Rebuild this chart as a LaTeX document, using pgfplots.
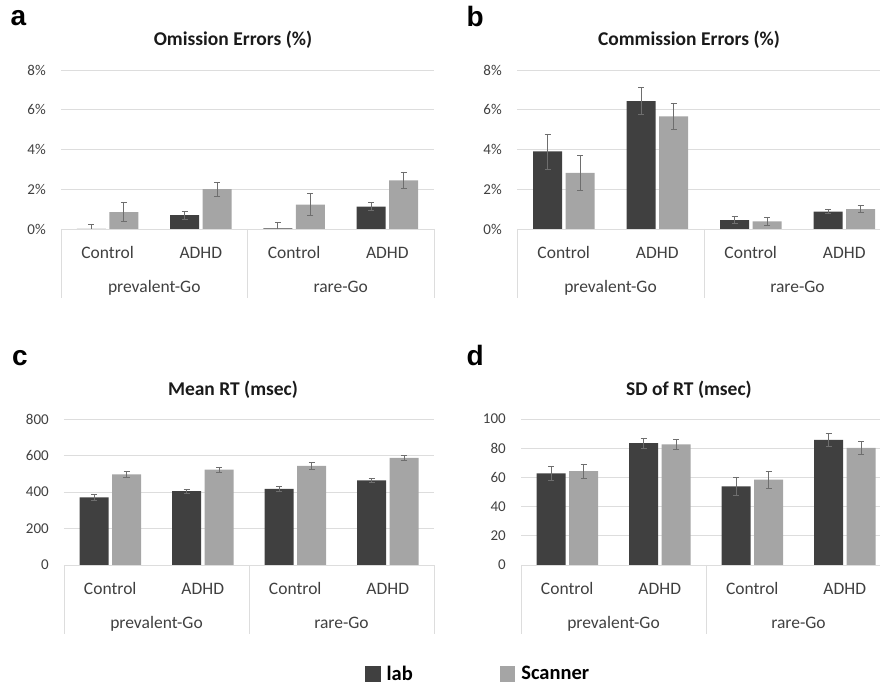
\documentclass[border=0pt]{standalone}
\usepackage{fontspec}
\setmainfont{Carlito}
\newfontfamily\arialfont{Liberation Sans}
\usepackage{pgfplots}
\pgfplotsset{compat=1.18}
\definecolor{labc}{HTML}{404040}
\definecolor{scanc}{HTML}{A5A5A5}
\definecolor{gridc}{HTML}{DDDDDD}
\definecolor{errc}{HTML}{6E6E6E}
\definecolor{tickc}{HTML}{404040}
\definecolor{titlec}{HTML}{1A1A1A}

\newcommand\catfont{\fontsize{17.5bp}{20bp}\selectfont}
\newcommand\decor{%
  \node[anchor=base, font=\catfont, tickc, yshift=-29.5bp] at (axis cs:1,0) {Control};
  \node[anchor=base, font=\catfont, tickc, yshift=-29.5bp] at (axis cs:2,0) {ADHD};
  \node[anchor=base, font=\catfont, tickc, yshift=-29.5bp] at (axis cs:3,0) {Control};
  \node[anchor=base, font=\catfont, tickc, yshift=-29.5bp] at (axis cs:4,0) {ADHD};
  \node[anchor=base, font=\catfont, tickc, yshift=-63.5bp] at (axis cs:1.5,0) {prevalent-Go};
  \node[anchor=base, font=\catfont, tickc, yshift=-63.5bp] at (axis cs:3.5,0) {rare-Go};
  \draw[gridc, line width=0.9bp] (axis cs:0.5,0) -- ++(0bp,-69bp);
  \draw[gridc, line width=0.9bp] (axis cs:2.5,0) -- ++(0bp,-69bp);
  \draw[gridc, line width=0.9bp] (axis cs:4.5,0) -- ++(0bp,-69bp);
}

\pgfplotsset{
  panel/.style={
    scale only axis, anchor=south west,
    ybar=3.5bp, bar width=29bp,
    xmin=0.5, xmax=4.5, ymin=0,
    xtick=\empty,
    axis line style={draw=none},
    major tick length=0pt,
    ymajorgrids, grid style={gridc, line width=0.9bp},
    yticklabel style={font=\fontsize{15bp}{18bp}\selectfont, color=tickc, anchor=east, inner sep=0pt, xshift=-15bp},
    /pgf/number format/assume math mode=true,
    clip mode=individual,
    enlargelimits=false,
  },
  errs/.style={error bars/.cd, y dir=both, y explicit,
    error bar style={errc, line width=0.8bp},
    error mark options={errc, rotate=90, mark size=3bp, line width=0.8bp}},
  labbar/.style={fill=labc, draw=none, errs},
  scanbar/.style={fill=scanc, draw=none, errs},
}

\begin{document}
\begin{tikzpicture}
\path[use as bounding box] (0,0) rectangle (880bp,684bp);
\clip (0,0) rectangle (880bp,684bp);

% panel a
\begin{axis}[panel, at={(61bp,455bp)}, width=373bp, height=159bp,
  ymax=8, ytick={0,2,4,6,8}, yticklabel={\pgfmathprintnumber{\tick}\%}]
\addplot[labbar] coordinates {(1,0.0) +- (0,0.22) (2,0.7) +- (0,0.2) (3,0.03) +- (0,0.3) (4,1.12) +- (0,0.2)};
\addplot[scanbar] coordinates {(1,0.85) +- (0,0.47) (2,2.0) +- (0,0.36) (3,1.23) +- (0,0.56) (4,2.45) +- (0,0.42)};
\decor
\end{axis}

% panel b
\begin{axis}[panel, at={(517bp,455bp)}, width=374bp, height=159bp,
  ymax=8, ytick={0,2,4,6,8}, yticklabel={\pgfmathprintnumber{\tick}\%}]
\addplot[labbar] coordinates {(1,3.9) +- (0,0.88) (2,6.43) +- (0,0.67) (3,0.45) +- (0,0.17) (4,0.87) +- (0,0.1)};
\addplot[scanbar] coordinates {(1,2.82) +- (0,0.86) (2,5.67) +- (0,0.65) (3,0.38) +- (0,0.2) (4,1.0) +- (0,0.17)};
\decor
\end{axis}

% panel c
\begin{axis}[panel, at={(64bp,119bp)}, width=370bp, height=146bp,
  ymax=800, ytick={0,200,400,600,800},
  legend columns=2,
  legend image code/.code={\fill[#1] (0bp,-7.8bp) rectangle (15.6bp,7.8bp);},
  legend style={at={(0.8135,-0.7466)}, anchor=west, draw=none, fill=none,
    inner sep=0pt, outer sep=0pt, text=black,
    font=\bfseries\fontsize{20.5bp}{24bp}\selectfont,
    /tikz/every odd column/.append style={column sep=4bp},
    /tikz/every even column/.append style={column sep=85bp}}]
\addplot[labbar] coordinates {(1,371) +- (0,16) (2,405) +- (0,10) (3,417) +- (0,14) (4,464) +- (0,11)};
\addlegendentry{lab}
\addplot[scanbar] coordinates {(1,497) +- (0,17) (2,523) +- (0,14) (3,543) +- (0,19) (4,587) +- (0,13)};
\addlegendentry{Scanner}
\decor
\end{axis}

% panel d
\begin{axis}[panel, at={(521bp,119bp)}, width=370bp, height=146bp,
  ymax=100, ytick={0,20,40,60,80,100}]
\addplot[labbar] coordinates {(1,62.7) +- (0,4.8) (2,83.4) +- (0,3.5) (3,53.9) +- (0,6.4) (4,85.7) +- (0,4.7)};
\addplot[scanbar] coordinates {(1,64.3) +- (0,4.7) (2,82.7) +- (0,3.6) (3,58.4) +- (0,5.7) (4,80.2) +- (0,4.3)};
\decor
\end{axis}

% titles
\node[anchor=base, font=\bfseries\fontsize{19.5bp}{22bp}\selectfont, titlec] at (233bp,638bp) {Omission Errors (\%)};
\node[anchor=base, font=\bfseries\fontsize{19.5bp}{22bp}\selectfont, titlec] at (689bp,638bp) {Commission Errors (\%)};
\node[anchor=base, font=\bfseries\fontsize{19.5bp}{22bp}\selectfont, titlec] at (233bp,288.3bp) {Mean RT (msec)};
\node[anchor=base, font=\bfseries\fontsize{19.5bp}{22bp}\selectfont, titlec] at (689bp,288.3bp) {SD of RT (msec)};
% panel letters
\node[anchor=base west, inner sep=0pt, font=\arialfont\bfseries\fontsize{28bp}{32bp}\selectfont] at (10.5bp,658bp) {a};
\node[anchor=base west, inner sep=0pt, font=\arialfont\bfseries\fontsize{28bp}{32bp}\selectfont] at (466.5bp,657bp) {b};
\node[anchor=base west, inner sep=0pt, font=\arialfont\bfseries\fontsize{28bp}{32bp}\selectfont] at (12bp,318bp) {c};
\node[anchor=base west, inner sep=0pt, font=\arialfont\bfseries\fontsize{28bp}{32bp}\selectfont] at (466.5bp,318bp) {d};
\end{tikzpicture}
\end{document}
